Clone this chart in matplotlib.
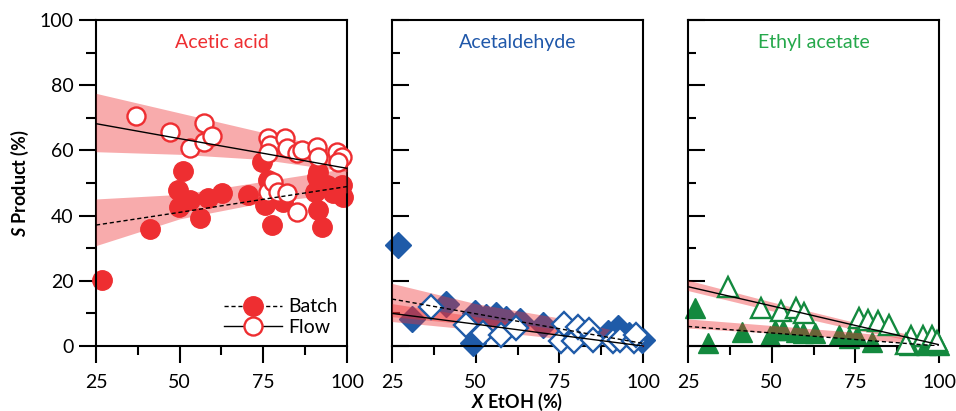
import numpy as np
import matplotlib
matplotlib.use("Agg")
import matplotlib.pyplot as plt
from matplotlib.lines import Line2D
from matplotlib.ticker import MultipleLocator

plt.rcParams['font.family'] = ['Lato', 'DejaVu Sans']
plt.rcParams['mathtext.fontset'] = 'custom'
plt.rcParams['mathtext.it'] = 'Lato:bold:italic'
plt.rcParams['mathtext.rm'] = 'Lato:bold'

# conversion range shared by every panel
x_fit = [25, 50, 75, 100]

# acetic acid
aa_batch_x = [26.7, 41.0, 49.4, 50.9, 49.9, 53.1, 56.1, 58.6, 62.6, 70.5, 74.5, 76.5, 75.5, 77.5,
              79.0, 81.0, 90.4, 90.9, 91.4, 91.4, 92.4, 93.9, 95.9, 98.4, 98.9]
aa_batch_y = [20.3, 36.0, 48.0, 53.7, 42.5, 44.8, 39.2, 45.3, 47.0, 46.3, 56.5, 50.9, 43.3, 37.1,
              45.8, 44.3, 47.3, 51.9, 53.5, 41.7, 36.6, 49.4, 46.8, 49.4, 45.8]
aa_flow_x = [37.0, 47.1, 53.1, 57.3, 57.3, 59.6, 76.5, 77.0, 76.5, 81.5, 82.0, 85.0, 86.5, 90.9,
             91.4, 96.9, 98.4, 97.4, 76.5, 77.9, 79.4, 82.0, 85.0]
aa_flow_y = [70.6, 65.5, 60.6, 68.5, 62.7, 64.4, 63.7, 61.6, 59.1, 63.7, 60.6, 59.1, 60.1, 61.1,
             58.0, 59.6, 58.1, 56.5, 47.3, 50.4, 47.3, 46.8, 41.2]
aa_batch_fit = [37.1, 41.0, 45.0, 48.9]
aa_batch_lo = [30.8, 39.0, 44.0, 47.0]
aa_batch_hi = [45.1, 46.5, 50.5, 54.5]
aa_flow_fit = [68.2, 63.6, 59.1, 54.5]
aa_flow_lo = [59.6, 58.8, 57.2, 53.5]
aa_flow_hi = [77.5, 71.5, 65.5, 59.6]

# acetaldehyde
ad_batch_x = [26.9, 30.9, 41.1, 49.2, 49.7, 53.2, 56.2, 59.1, 63.1, 70.1, 89.5, 92.4, 95.8, 99.8]
ad_batch_y = [31.0, 8.2, 12.9, 1.0, 10.0, 9.0, 9.6, 8.3, 7.6, 6.4, 3.9, 5.4, 3.4, 1.9]
ad_flow_x = [36.8, 47.2, 52.2, 57.7, 62.1, 75.5, 76.5, 79.5, 80.5, 84.0, 85.0, 91.0, 93.0, 97.4, 98.0]
ad_flow_y = [12.0, 6.4, 3.9, 3.4, 5.4, 1.4, 6.9, 1.4, 5.9, 4.9, 1.8, 1.4, 1.9, 1.4, 3.5]
ad_batch_fit = [14.4, 9.9, 5.3, 0.8]
ad_batch_lo = [9.0, 6.5, 3.5, 0.0]
ad_batch_hi = [19.2, 13.0, 8.6, 2.8]
ad_flow_fit = [10.0, 6.7, 3.3, 0.0]
ad_flow_lo = [7.5, 5.0, 2.3, -0.5]
ad_flow_hi = [13.0, 9.0, 5.0, 1.2]

# ethyl acetate
ea_batch_x = [27.1, 31.0, 41.0, 49.4, 50.9, 53.4, 57.4, 59.3, 62.8, 70.2, 73.2, 75.5, 80.1, 91.1,
              96.1, 100.0]
ea_batch_y = [11.6, 0.8, 4.4, 3.0, 5.0, 5.0, 4.4, 4.0, 4.0, 3.5, 2.5, 3.0, 1.1, 0.2, 0.2, 0.2]
ea_flow_x = [37.0, 46.9, 52.9, 57.4, 59.8, 76.2, 78.7, 81.7, 85.2, 91.6, 95.1, 98.0, 99.5, 90.0]
ea_flow_y = [18.2, 11.6, 10.6, 11.6, 10.2, 8.6, 8.1, 7.6, 6.5, 3.0, 3.0, 3.0, 1.5, 0.5]
ea_batch_fit = [6.0, 4.0, 2.0, 0.0]
ea_batch_lo = [5.5, 4.0, 2.3, 0.0]
ea_batch_hi = [8.3, 6.3, 4.2, 1.5]
ea_flow_fit = [18.2, 12.3, 6.3, 0.4]
ea_flow_lo = [17.0, 10.8, 5.0, 0.0]
ea_flow_hi = [20.2, 13.5, 7.2, 1.5]

band_color = '#EE2E31'

panels = [
    dict(name='Acetic acid', color='#EE2E31', tcolor='#EE2E31', marker='o', ms=14,
         bx=aa_batch_x, by=aa_batch_y, fx=aa_flow_x, fy=aa_flow_y,
         bfit=aa_batch_fit, blo=aa_batch_lo, bhi=aa_batch_hi,
         ffit=aa_flow_fit, flo=aa_flow_lo, fhi=aa_flow_hi),
    dict(name='Acetaldehyde', color='#1F5BA8', tcolor='#2058AA', marker='D', ms=13.5,
         bx=ad_batch_x, by=ad_batch_y, fx=ad_flow_x, fy=ad_flow_y,
         bfit=ad_batch_fit, blo=ad_batch_lo, bhi=ad_batch_hi,
         ffit=ad_flow_fit, flo=ad_flow_lo, fhi=ad_flow_hi),
    dict(name='Ethyl acetate', color='#13893E', tcolor='#25A84B', marker='^', ms=15,
         bx=ea_batch_x, by=ea_batch_y, fx=ea_flow_x, fy=ea_flow_y,
         bfit=ea_batch_fit, blo=ea_batch_lo, bhi=ea_batch_hi,
         ffit=ea_flow_fit, flo=ea_flow_lo, fhi=ea_flow_hi),
]

fig = plt.figure(figsize=(9.56, 4.11), dpi=100)
lefts = [96, 392, 688]
axs = [fig.add_axes([l / 956, 65 / 411, 251 / 956, 326 / 411]) for l in lefts]

for i, (ax, p) in enumerate(zip(axs, panels)):
    ax.plot(p['bx'], p['by'], linestyle='none', marker=p['marker'], ms=p['ms'],
            color=p['color'], zorder=2, clip_on=False)
    ax.fill_between(x_fit, p['blo'], p['bhi'], color=band_color, alpha=0.4, lw=0, zorder=3)
    ax.fill_between(x_fit, p['flo'], p['fhi'], color=band_color, alpha=0.4, lw=0, zorder=3)
    ax.plot(p['fx'], p['fy'], linestyle='none', marker=p['marker'], ms=p['ms'] - 1,
            mfc='white', mec=p['color'], mew=1.7, zorder=4, clip_on=False)
    ax.plot(x_fit, p['bfit'], 'k--', lw=1.0, dashes=(3, 2), zorder=5)
    ax.plot(x_fit, p['ffit'], 'k-', lw=1.0, zorder=5)

    ax.set_xlim(25, 100)
    ax.set_ylim(0, 100)
    ax.xaxis.set_major_locator(MultipleLocator(25))
    ax.xaxis.set_minor_locator(MultipleLocator(12.5))
    ax.yaxis.set_major_locator(MultipleLocator(20))
    ax.yaxis.set_minor_locator(MultipleLocator(10))
    for s in ax.spines.values():
        s.set_linewidth(1.5)
    ax.tick_params(axis='x', which='major', direction='out', length=12, width=1.5,
                   labelsize=14, pad=8)
    ax.tick_params(axis='x', which='minor', direction='out', length=6.5, width=1.5)
    if i == 0:
        ax.tick_params(axis='y', which='major', direction='out', length=12, width=1.5,
                       labelsize=14, pad=4)
        ax.tick_params(axis='y', which='minor', direction='out', length=7, width=1.5)
    else:
        ax.tick_params(axis='y', which='major', direction='in', length=12, width=1.5,
                       labelleft=False)
        ax.tick_params(axis='y', which='minor', direction='in', length=6, width=1.5)
    ax.text(0.5, 0.93, p['name'], transform=ax.transAxes, ha='center', va='center',
            color=p['tcolor'], fontsize=14)

axs[0].set_ylabel(r'$S$ Product (%)', fontsize=13, fontweight='bold', labelpad=6)
axs[1].set_xlabel(r'$X$ EtOH (%)', fontsize=13, fontweight='bold', labelpad=0)

handles = [
    Line2D([], [], color='k', lw=1.0, linestyle='--', dashes=(3, 2), marker='o', ms=14,
           mfc='#EE2E31', mec='#EE2E31'),
    Line2D([], [], color='k', lw=1.0, marker='o', ms=13, mfc='white', mec='#EE2E31', mew=1.7),
]
axs[0].legend(handles, ['Batch', 'Flow'], loc='lower right', frameon=False, fontsize=14,
              handlelength=3.0, handletextpad=0.3, borderaxespad=0.1, labelspacing=0.2)

fig.savefig('out.png', dpi=100)
